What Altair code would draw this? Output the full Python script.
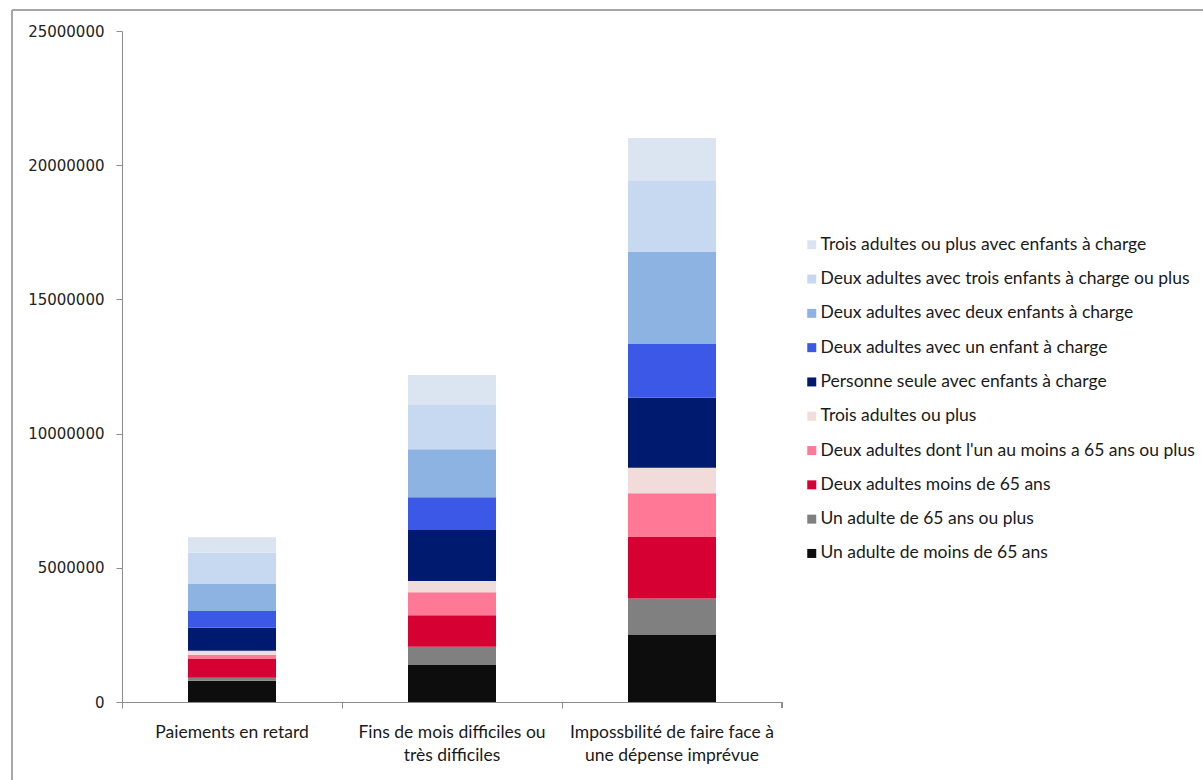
import altair as alt
import pandas as pd

# Household types, bottom of the stack first
series = [
    "Un adulte de moins de 65 ans",
    "Un adulte de 65 ans ou plus",
    "Deux adultes moins de 65 ans",
    "Deux adultes dont l'un au moins a 65 ans ou plus",
    "Trois adultes ou plus",
    "Personne seule avec enfants à charge",
    "Deux adultes avec un enfant à charge",
    "Deux adultes avec deux enfants à charge",
    "Deux adultes avec trois enfants à charge ou plus",
    "Trois adultes ou plus avec enfants à charge",
]
colors = [
    "#0d0d0d", "#808080", "#d60032", "#ff7896", "#f2dcdb",
    "#001a70", "#3c58e6", "#8db3e2", "#c6d9f0", "#dbe5f1",
]

# Hardship indicators (x categories); "|" marks a line break in the label
categories = [
    "Paiements en retard",
    "Fins de mois difficiles ou|très difficiles",
    "Impossbilité de faire face à|une dépense imprévue",
]

# Number of people per household type, one list per indicator
paiements_retard = [790000, 110000, 700000, 160000, 150000, 860000, 620000, 1010000, 1170000, 570000]
fins_de_mois = [1380000, 680000, 1170000, 860000, 420000, 1900000, 1220000, 1790000, 1650000, 1110000]
depense_imprevue = [2500000, 1360000, 2290000, 1630000, 950000, 2610000, 2000000, 3440000, 2630000, 1600000]

rows = []
for cat, vals in zip(categories, [paiements_retard, fins_de_mois, depense_imprevue]):
    for i, (s, v) in enumerate(zip(series, vals)):
        rows.append({"categorie": cat, "menage": s, "rang": i, "valeur": v})
df = pd.DataFrame(rows)

FONT = "Lato"
TEXT_SIZE = 17.5
AXIS_GREY = "#8c8c8c"

bars = alt.Chart(df).mark_bar(size=88).encode(
    x=alt.X(
        "categorie:N",
        sort=categories,
        scale=alt.Scale(paddingInner=0.6, paddingOuter=0.3),
        axis=alt.Axis(
            title=None,
            labelAngle=0,
            labelExpr="split(datum.label, '|')",
            labelFont=FONT,
            labelFontSize=TEXT_SIZE,
            labelColor="#1a1a1a",
            labelLineHeight=23,
            labelPadding=15,
            bandPosition=-0.75,
            labelOffset=0,
            domainColor=AXIS_GREY,
            tickColor=AXIS_GREY,
            tickSize=6,
            labelLimit=400,
        ),
    ),
    y=alt.Y(
        "valeur:Q",
        stack="zero",
        scale=alt.Scale(domain=[0, 25000000], nice=False),
        axis=alt.Axis(
            title=None,
            values=[0, 5000000, 10000000, 15000000, 20000000, 25000000],
            format="d",
            grid=False,
            labelFont="DejaVu Sans",
            labelFontSize=15,
            labelColor="#222222",
            labelPadding=12,
            domainColor=AXIS_GREY,
            tickColor=AXIS_GREY,
            tickSize=6,
        ),
    ),
    color=alt.Color(
        "menage:N",
        scale=alt.Scale(domain=series[::-1], range=colors[::-1]),
        legend=alt.Legend(
            title=None,
            orient="none",
            legendX=681,
            legendY=205,
            symbolType="square",
            symbolSize=81,
            symbolStrokeWidth=0,
            labelFont=FONT,
            labelFontSize=TEXT_SIZE,
            labelColor="#1a1a1a",
            labelLimit=500,
            labelOffset=0,
            rowPadding=15.3,
        ),
    ),
    order=alt.Order("rang:Q", sort="ascending"),
)

# Closing tick at the right end of the category axis
end_tick = alt.Chart(df).mark_rule(color=AXIS_GREY, strokeWidth=1).encode(
    x=alt.value(660), y=alt.value(671), y2=alt.value(677)
)

# Outer frame of the chart area
frame_top = alt.Chart(df).mark_rule(color="#a6a6a6", strokeWidth=2).encode(
    x=alt.value(-110), x2=alt.value(1100), y=alt.value(-21)
)
frame_left = alt.Chart(df).mark_rule(color="#a6a6a6", strokeWidth=1.5).encode(
    x=alt.value(-110), y=alt.value(-21), y2=alt.value(800)
)

chart = alt.layer(frame_top, frame_left, bars, end_tick).properties(
    width=660,
    height=671,
    padding={"left": 122, "top": 31, "right": 421, "bottom": 78},
    autosize="none",
    background="white",
).configure_view(stroke=None)

chart.save("out.html", embed_options={"renderer": "svg", "actions": False})
